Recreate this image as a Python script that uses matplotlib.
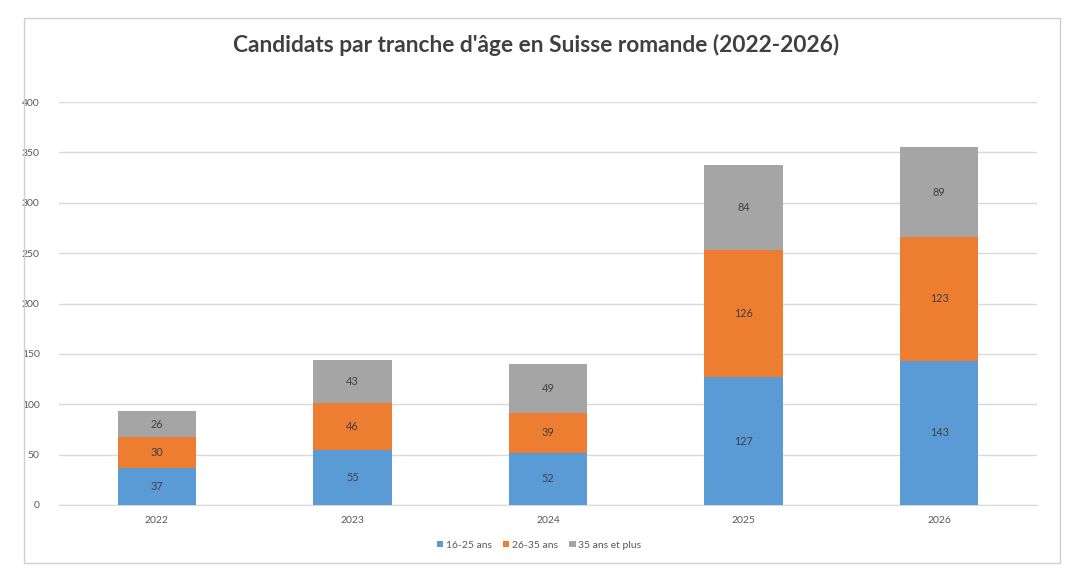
import matplotlib
matplotlib.use("Agg")
import matplotlib.pyplot as plt
from matplotlib.patches import Rectangle
import numpy as np

years = ["2022", "2023", "2024", "2025", "2026"]
s_16_25 = [37, 55, 52, 127, 143]
s_26_35 = [30, 46, 39, 126, 123]
s_35plus = [26, 43, 49, 84, 89]
series_names = ["16-25 ans", "26-35 ans", "35 ans et plus"]
colors = ["#5B9BD5", "#ED7D31", "#A5A5A5"]
yticks = [0, 50, 100, 150, 200, 250, 300, 350, 400]

plt.rcParams['font.family'] = ['Lato', 'DejaVu Sans']

fig = plt.figure(figsize=(10.73, 5.8), dpi=100)
fig.patch.set_facecolor("white")
# chart border
fig.patches.append(Rectangle((24/1073, 1-563/580), (1060-24)/1073, (563-18)/580,
                             transform=fig.transFigure, fill=False,
                             edgecolor="#d0d0d0", linewidth=1.0))

ax = fig.add_axes([59/1073, 1-505/580, (1037-59)/1073, (505-102)/580])
x = np.arange(len(years))
bottom = np.zeros(len(years))
handles = []
for vals, name, c in zip([s_16_25, s_26_35, s_35plus], series_names, colors):
    b = ax.bar(x, vals, width=0.40, bottom=bottom, color=c, label=name, zorder=3)
    handles.append(b)
    for xi, v, bt in zip(x, vals, bottom):
        ax.text(xi, bt + v/2, str(v), ha="center", va="center", fontsize=7.8,
                color="#404040", zorder=4)
    bottom = bottom + np.array(vals)

ax.set_xlim(-0.5, len(years)-0.5)
ax.set_ylim(0, 400)
ax.set_yticks(yticks)
ax.set_yticklabels([str(t) for t in yticks])
ax.set_xticks(x)
ax.set_xticklabels(years)
ax.grid(axis="y", color="#d9d9d9", linewidth=1.0, zorder=0)
for s in ["top", "right", "left"]:
    ax.spines[s].set_visible(False)
ax.spines["bottom"].set_color("#d9d9d9")
ax.tick_params(axis="both", length=0, labelsize=7.5, labelcolor="#595959")
ax.tick_params(axis="y", pad=14)
ax.tick_params(axis="x", pad=8)

fig.text(536/1073, 1-45/580, "Candidats par tranche d'âge en Suisse romande (2022-2026)",
         ha="center", va="center", fontsize=16.4, fontweight="bold", color="#404040")

leg = fig.legend(handles=handles, labels=series_names, loc="center",
                 bbox_to_anchor=(539/1073, 1-545/580), ncol=3, frameon=False,
                 fontsize=7.5, handlelength=0.6, handleheight=0.6, columnspacing=1.1,
                 handletextpad=0.25)
for t in leg.get_texts():
    t.set_color("#595959")

fig.savefig("out.png", dpi=100, facecolor="white")
